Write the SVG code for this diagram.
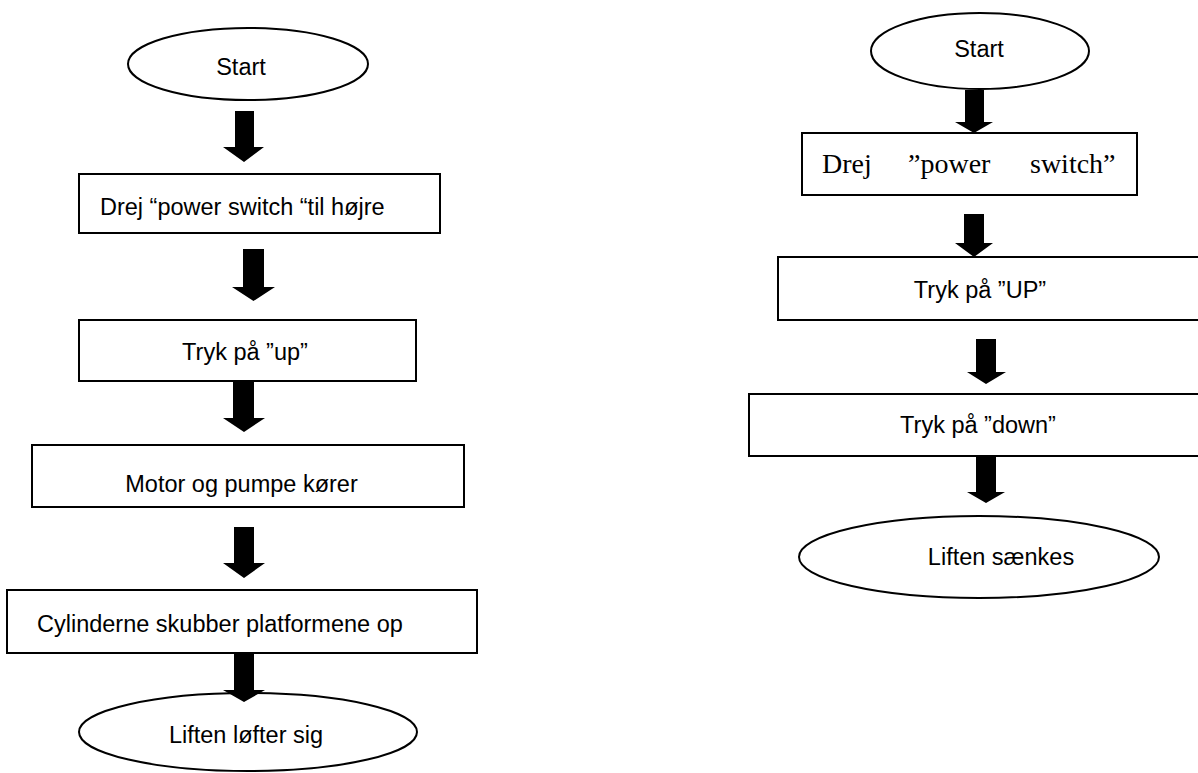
<svg xmlns="http://www.w3.org/2000/svg" width="1198" height="773" viewBox="0 0 1198 773">
<style>
.shape{fill:#fff;stroke:#000;stroke-width:2}
.t{font-family:"Liberation Sans",Arial,sans-serif;font-size:23.5px;fill:#000}
.c{text-anchor:middle}
.serif{font-family:"Liberation Serif","Times New Roman",serif;font-size:28px;fill:#000}
.arrow{fill:#000;stroke:none}
</style>
<rect width="1198" height="773" fill="#fff"/>
<g id="L-start"><ellipse class="shape" cx="248" cy="64" rx="120" ry="36"/><text class="t c" x="241" y="75">Start</text></g>
<g id="L-step1"><rect class="shape" x="79" y="174" width="361" height="59"/><text class="t" x="100" y="215">Drej “power switch “til højre</text></g>
<g id="L-step2"><rect class="shape" x="79" y="320" width="337" height="61"/><text class="t c" x="245" y="360">Tryk på ”up”</text></g>
<g id="L-step3"><rect class="shape" x="32" y="445" width="432" height="62"/><text class="t c" x="241.5" y="492">Motor og pumpe kører</text></g>
<g id="L-step4"><rect class="shape" x="7" y="590" width="470" height="63"/><text class="t" x="37" y="632">Cylinderne skubber platformene op</text></g>
<g id="L-end"><ellipse class="shape" cx="248" cy="732" rx="169" ry="39"/><text class="t c" x="246" y="743">Liften løfter sig</text></g>
<g id="R-start"><ellipse class="shape" cx="980" cy="51" rx="109" ry="38"/><text class="t c" x="979" y="57">Start</text></g>
<g id="R-step1"><rect class="shape" x="802" y="133" width="335" height="62"/><text class="serif" y="173"><tspan x="822">Drej</tspan><tspan x="908">”power</tspan><tspan x="1030">switch”</tspan></text></g>
<g id="R-step2"><path class="shape" d="M1202 257H778V320H1202"/><text class="t c" x="980" y="298">Tryk på ”UP”</text></g>
<g id="R-step3"><path class="shape" d="M1202 394H749V456H1202"/><text class="t c" x="978" y="433">Tryk på ”down”</text></g>
<g id="R-end"><ellipse class="shape" cx="979" cy="557" rx="180" ry="41"/><text class="t c" x="1001" y="565">Liften sænkes</text></g>
<g id="connectors">
<path class="arrow" d="M235 111H254V147H264L244 162L223 147H235Z"/>
<path class="arrow" d="M243 249H264V287H275L253.5 301L232 287H243Z"/>
<path class="arrow" d="M233 381H254V418H265L244 432L223 418H233Z"/>
<path class="arrow" d="M234 527H254V563H265L244 578L223 563H234Z"/>
<path class="arrow" d="M234 653H254V690H265L244 702L223 690H234Z"/>
<path class="arrow" d="M965 90H984V122H993L974 133L955 122H965Z"/>
<path class="arrow" d="M964 214H984V243H993L974 257L955 243H964Z"/>
<path class="arrow" d="M976 339H996V372H1006L986 384L967 372H976Z"/>
<path class="arrow" d="M976 456H996V492H1005L986 503L967 492H976Z"/>
</g>
</svg>
